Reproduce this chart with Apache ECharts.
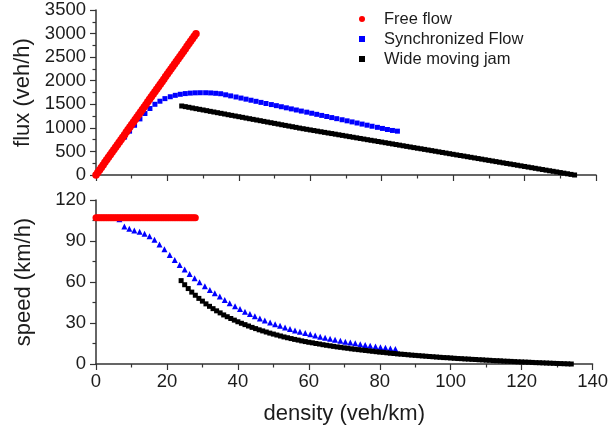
<!DOCTYPE html>
<html>
<head>
<meta charset="utf-8">
<script src="https://cdn.jsdelivr.net/npm/echarts@6/dist/echarts.min.js"></script>
<style>
  html, body { margin: 0; padding: 0; background: #fff; }
  #chart { width: 611px; height: 434px; }
</style>
</head>
<body>
<div id="chart"></div>
<script>
// Free flow branch: density (veh/km), flux (veh/h), speed (km/h)
const freeDensity = [0, 0.5, 1, 1.5, 2, 2.5, 3, 3.5, 4, 4.5, 5, 5.5, 6, 6.5, 7, 7.5, 8, 8.5, 9, 9.5,
  10, 10.5, 11, 11.5, 12, 12.5, 13, 13.5, 14, 14.5, 15, 15.5, 16, 16.5, 17, 17.5, 18, 18.5, 19, 19.5,
  20, 20.5, 21, 21.5, 22, 22.5, 23, 23.5, 24, 24.5, 25, 25.5, 26, 26.5, 27, 27.5, 28];
const freeFlux = [0, 54, 107, 161, 214, 268, 321, 375, 428, 482, 535, 589, 642, 696, 749, 803, 856, 910, 963, 1017,
  1070, 1124, 1177, 1231, 1284, 1338, 1391, 1445, 1498, 1552, 1605, 1659, 1712, 1766, 1819, 1873, 1926, 1980, 2033, 2087,
  2140, 2194, 2247, 2301, 2354, 2408, 2461, 2515, 2568, 2622, 2675, 2729, 2782, 2836, 2889, 2943, 2996];
const freeSpeed = [107, 107, 107, 107, 107, 107, 107, 107, 107, 107, 107, 107, 107, 107, 107, 107, 107, 107, 107, 107,
  107, 107, 107, 107, 107, 107, 107, 107, 107, 107, 107, 107, 107, 107, 107, 107, 107, 107, 107, 107,
  107, 107, 107, 107, 107, 107, 107, 107, 107, 107, 107, 107, 107, 107, 107, 107, 107];

// Synchronized flow branch
const syncDensity = [6.6, 8.0, 9.4, 10.8, 12.3, 13.7, 15.1, 16.5, 17.9, 19.3, 20.8, 22.2, 23.6, 25.0, 26.4, 27.8,
  29.2, 30.7, 32.1, 33.5, 34.9, 36.3, 37.7, 39.2, 40.6, 42.0, 43.4, 44.8, 46.2, 47.6, 49.1, 50.5,
  51.9, 53.3, 54.7, 56.1, 57.5, 59.0, 60.4, 61.8, 63.2, 64.6, 66.0, 67.4, 68.9, 70.3, 71.7, 73.1,
  74.5, 75.9, 77.3, 78.8, 80.2, 81.6, 83.0, 84.4];
const syncFlux = [700, 805, 930, 1055, 1190, 1305, 1410, 1500, 1565, 1620, 1660, 1690, 1712, 1727, 1737, 1743,
  1745, 1745, 1741, 1733, 1724, 1701, 1678, 1655, 1632, 1609, 1586, 1563, 1540, 1517, 1494, 1471,
  1448, 1425, 1402, 1379, 1356, 1333, 1310, 1287, 1264, 1241, 1218, 1195, 1172, 1149, 1126, 1103,
  1080, 1057, 1034, 1011, 988, 965, 945, 930];
const syncSpeed = [106, 100.6, 98.9, 97.7, 96.7, 95.3, 93.4, 90.9, 87.4, 83.9, 79.8, 76.1, 72.5, 69.1, 65.8, 62.7,
  59.8, 56.8, 54.2, 51.7, 49.4, 46.9, 44.5, 42.2, 40.2, 38.3, 36.5, 34.9, 33.3, 31.9, 30.4, 29.1,
  27.9, 26.7, 25.6, 24.6, 23.6, 22.6, 21.7, 20.8, 20.0, 19.2, 18.5, 17.7, 17.0, 16.3, 15.7, 15.1,
  14.5, 13.9, 13.4, 12.8, 12.3, 11.8, 11.4, 11.0];

// Wide moving jam branch
const jamDensity = [24, 25, 26, 27, 28, 29, 30, 31, 32, 33, 34, 35, 36, 37, 38, 39, 40, 41, 42, 43,
  44, 45, 46, 47, 48, 49, 50, 51, 52, 53, 54, 55, 56, 57, 58, 59, 60, 61, 62, 63,
  64, 65, 66, 67, 68, 69, 70, 71, 72, 73, 74, 75, 76, 77, 78, 79, 80, 81, 82, 83,
  84, 85, 86, 87, 88, 89, 90, 91, 92, 93, 94, 95, 96, 97, 98, 99, 100, 101, 102, 103,
  104, 105, 106, 107, 108, 109, 110, 111, 112, 113, 114, 115, 116, 117, 118, 119, 120, 121, 122, 123,
  124, 125, 126, 127, 128, 129, 130, 131, 132, 133, 134];
const jamFlux = [1464, 1450, 1436, 1421, 1407, 1393, 1379, 1365, 1350, 1336, 1322, 1308, 1294, 1279, 1265, 1251, 1237, 1223, 1208, 1194,
  1180, 1166, 1152, 1137, 1123, 1109, 1095, 1081, 1066, 1052, 1038, 1024, 1010, 995, 982, 969, 956, 943, 930, 917,
  904, 891, 879, 866, 853, 840, 827, 814, 801, 788, 775, 762, 749, 736, 724, 711, 698, 685, 672, 659,
  646, 633, 620, 607, 594, 581, 568, 556, 543, 530, 517, 504, 491, 478, 465, 452, 439, 426, 413, 401,
  388, 375, 362, 349, 336, 323, 310, 297, 284, 271, 258, 245, 233, 220, 207, 194, 181, 168, 155, 142,
  129, 116, 103, 90, 78, 65, 52, 39, 26, 13, 0];
const jamSpeed = [61.0, 58.0, 55.2, 52.6, 50.3, 48.0, 46.0, 44.0, 42.2, 40.5, 38.9, 37.4, 35.9, 34.6, 33.3, 32.1, 30.9, 29.8, 28.8, 27.8,
  26.8, 25.9, 25.0, 24.2, 23.4, 22.6, 21.9, 21.2, 20.5, 19.8, 19.2, 18.6, 18.0, 17.5, 16.9, 16.4, 15.9, 15.5, 15.0, 14.6,
  14.1, 13.7, 13.3, 12.9, 12.5, 12.2, 11.8, 11.5, 11.1, 10.8, 10.5, 10.2, 9.9, 9.6, 9.3, 9.0, 8.7, 8.5, 8.2, 7.9,
  7.7, 7.4, 7.2, 7.0, 6.75, 6.5, 6.3, 6.1, 5.9, 5.7, 5.5, 5.3, 5.1, 4.9, 4.7, 4.6, 4.4, 4.2, 4.0, 3.9,
  3.7, 3.6, 3.4, 3.3, 3.1, 3.0, 2.8, 2.7, 2.5, 2.4, 2.3, 2.1, 2.0, 1.9, 1.75, 1.6, 1.5, 1.4, 1.3, 1.15,
  1.0, 0.93, 0.82, 0.71, 0.61, 0.5, 0.4, 0.3, 0.2, 0.1, 0];

const seriesNames = ['Free flow', 'Synchronized Flow', 'Wide moving jam'];
const xTitle = 'density (veh/km)';
const fluxTitle = 'flux (veh/h)';
const speedTitle = 'speed (km/h)';

function pairs(xs, ys) { return xs.map((x, i) => [x, ys[i]]); }

const INK = '#1c1c1c';
const AXIS = '#333';
const FONT = 'Arial, "Liberation Sans", sans-serif';
const plainNumber = v => String(v);

function xAxisCfg(gridIndex, showLabels) {
  return {
    gridIndex, type: 'value', min: 0, max: 140, interval: 20,
    name: showLabels ? xTitle : '', nameLocation: 'middle', nameGap: 39,
    nameTextStyle: { fontSize: 22, color: INK, fontFamily: FONT },
    axisLine: { show: true, onZero: false, lineStyle: { color: AXIS, width: 1.5 } },
    axisTick: { show: true, inside: false, length: 6, lineStyle: { color: AXIS, width: 1.2 } },
    minorTick: { show: true, splitNumber: 2, length: 3.5, lineStyle: { color: AXIS, width: 1.2 } },
    axisLabel: { show: showLabels, fontSize: 18.5, color: INK, fontFamily: FONT, margin: 8, formatter: plainNumber },
    splitLine: { show: false }, minorSplitLine: { show: false }
  };
}
function yAxisCfg(gridIndex, max, interval, title) {
  return {
    gridIndex, type: 'value', min: 0, max, interval,
    name: title, nameLocation: 'middle', nameGap: 61, nameRotate: 90,
    nameTextStyle: { fontSize: 22, color: INK, fontFamily: FONT },
    axisLine: { show: true, onZero: false, lineStyle: { color: AXIS, width: 1.5 } },
    axisTick: { show: true, inside: false, length: 6, lineStyle: { color: AXIS, width: 1.2 } },
    minorTick: { show: true, splitNumber: 2, length: 3.5, lineStyle: { color: AXIS, width: 1.2 } },
    axisLabel: { fontSize: 18.5, color: INK, fontFamily: FONT, margin: 10, formatter: plainNumber },
    splitLine: { show: false }, minorSplitLine: { show: false }
  };
}

const chart = echarts.init(document.getElementById('chart'), null, { renderer: 'canvas' });
chart.setOption({
  animation: false,
  backgroundColor: '#fff',
  grid: [
    { left: 96, right: 15, top: 10, height: 165 },
    { left: 96, right: 15, top: 200, height: 164 }
  ],
  xAxis: [xAxisCfg(0, false), xAxisCfg(1, true)],
  yAxis: [yAxisCfg(0, 3500, 500, fluxTitle), yAxisCfg(1, 120, 30, speedTitle)],
  legend: {
    orient: 'vertical', left: 354, top: 4, itemGap: 0,
    itemWidth: 6, itemHeight: 6, selectedMode: false,
    data: [
      { name: seriesNames[0], icon: 'circle' },
      { name: seriesNames[1], icon: 'rect' },
      { name: seriesNames[2], icon: 'rect' }
    ],
    textStyle: { fontSize: 16.5, color: INK, fontFamily: FONT, lineHeight: 20, padding: [0, 0, 0, 14] }
  },
  series: [
    { name: seriesNames[1], type: 'scatter', xAxisIndex: 0, yAxisIndex: 0, symbol: 'rect', symbolSize: 5,
      itemStyle: { color: '#0000ff', opacity: 1 }, data: pairs(syncDensity, syncFlux) },
    { name: seriesNames[2], type: 'scatter', xAxisIndex: 0, yAxisIndex: 0, symbol: 'rect', symbolSize: 5,
      itemStyle: { color: '#000', opacity: 1 }, data: pairs(jamDensity, jamFlux) },
    { name: seriesNames[0], type: 'scatter', xAxisIndex: 0, yAxisIndex: 0, symbol: 'circle', symbolSize: 7.5,
      itemStyle: { color: '#ff0000', opacity: 1 }, data: pairs(freeDensity, freeFlux) },
    { name: seriesNames[1], type: 'scatter', xAxisIndex: 1, yAxisIndex: 1, symbol: 'triangle', symbolSize: 6,
      itemStyle: { color: '#0000ff', opacity: 1 }, data: pairs(syncDensity, syncSpeed) },
    { name: seriesNames[2], type: 'scatter', xAxisIndex: 1, yAxisIndex: 1, symbol: 'rect', symbolSize: 5,
      itemStyle: { color: '#000', opacity: 1 }, data: pairs(jamDensity, jamSpeed) },
    { name: seriesNames[0], type: 'scatter', xAxisIndex: 1, yAxisIndex: 1, symbol: 'circle', symbolSize: 7,
      itemStyle: { color: '#ff0000', opacity: 1 }, data: pairs(freeDensity, freeSpeed) }
  ]
});
</script>
</body>
</html>
